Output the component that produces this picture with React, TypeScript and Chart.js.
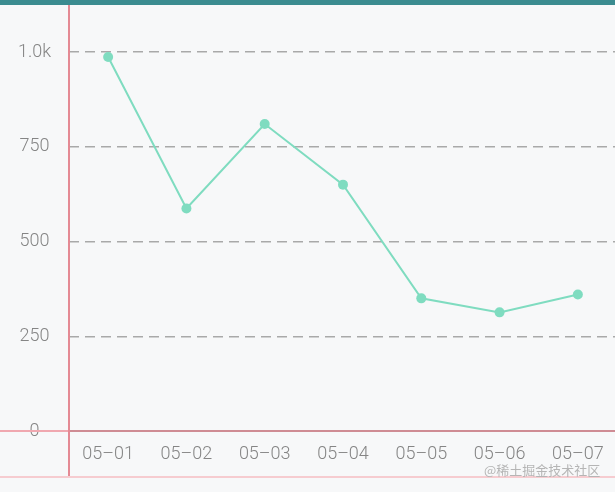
import React, { useEffect, useRef } from "react";
import { Chart, registerables } from "chart.js";

Chart.register(...registerables);

const categories = ["05–01", "05–02", "05–03", "05–04", "05–05", "05–06", "05–07"];
const seriesValues = [987, 587, 810, 650, 350, 313, 360];
const yTicks = [0, 250, 500, 750, 1000];

const decorPlugin = {
  id: "decor",
  beforeDraw(chart: any) {
    const { ctx, width, height } = chart;
    ctx.save();
    ctx.fillStyle = "#f7f8f9";
    ctx.fillRect(0, 0, width, height);
    ctx.restore();
  },
  afterDraw(chart: any) {
    const { ctx, width, chartArea, scales } = chart;
    const x0 = Math.round(chartArea.left);
    const y0 = Math.round(scales.y.getPixelForValue(0));
    ctx.save();
    ctx.fillStyle = "#3b8c90";
    ctx.fillRect(0, 0, width, 5);
    ctx.fillStyle = "#e48a94";
    ctx.fillRect(x0 - 1, 5, 2, 472);
    ctx.fillStyle = "#f0a8b0";
    ctx.fillRect(0, y0 - 1, x0 - 1, 2);
    ctx.fillStyle = "#cf8c94";
    ctx.fillRect(x0 + 1, y0 - 1, width - x0, 2);
    ctx.fillStyle = "#f6ccd0";
    ctx.fillRect(0, 476, width, 2);
    ctx.restore();
  },
};

export default function App() {
  const canvasRef = useRef<HTMLCanvasElement | null>(null);

  useEffect(() => {
    document.body.style.margin = "0";
    const chart = new Chart(canvasRef.current as HTMLCanvasElement, {
      type: "line",
      data: {
        labels: categories,
        datasets: [
          {
            data: seriesValues,
            borderColor: "#7fdcc0",
            backgroundColor: "#7fdcc0",
            borderWidth: 2,
            pointRadius: 5,
            pointHoverRadius: 5,
            pointBorderWidth: 0,
            tension: 0,
            clip: false,
          },
        ],
      },
      options: {
        animation: false,
        responsive: false,
        maintainAspectRatio: false,
        layout: { padding: { top: 52, right: 0, left: 0, bottom: 0 } },
        plugins: { legend: { display: false }, tooltip: { enabled: false } },
        scales: {
          x: {
            offset: true,
            border: { display: false },
            grid: { display: false, drawTicks: false },
            ticks: {
              padding: 13,
              color: "#858585",
              font: { family: "Roboto", size: 18, weight: "300" },
              maxRotation: 0,
              autoSkip: false,
            },
            afterFit(scale: any) {
              scale.height = 61;
              scale.paddingRight = 0;
              scale.paddingLeft = 0;
            },
          },
          y: {
            min: 0,
            max: 1000,
            afterBuildTicks(scale: any) {
              scale.ticks = yTicks.map((v) => ({ value: v }));
            },
            border: { display: false, dash: [10, 6] },
            grid: {
              drawTicks: false,
              color: (c: any) => (c.tick && c.tick.value === 0 ? "rgba(0,0,0,0)" : "#a9a9a9"),
              lineWidth: 1.5,
            },
            ticks: {
              padding: 18,
              crossAlign: "center",
              color: "#858585",
              font: { family: "Roboto", size: 18, weight: "300" },
              callback: (v: any) => (v >= 1000 ? (v / 1000).toFixed(1) + "k" : String(v)),
            },
            afterFit(scale: any) {
              scale.width = 69;
            },
          },
        },
      } as any,
      plugins: [decorPlugin],
    });
    return () => chart.destroy();
  }, []);

  return (
    <div style={{ position: "relative", width: 615, height: 492, overflow: "hidden" }}>
      <canvas ref={canvasRef} width={622} height={492} style={{ display: "block", width: 622, height: 492 }} />
      <div
        style={{
          position: "absolute",
          left: 484,
          top: 461,
          fontFamily: "'Noto Sans CJK SC', sans-serif",
          fontSize: 13,
          color: "#b5b5b5",
          whiteSpace: "nowrap",
          lineHeight: "18px",
        }}
      >
        @稀土掘金技术社区
      </div>
    </div>
  );
}
